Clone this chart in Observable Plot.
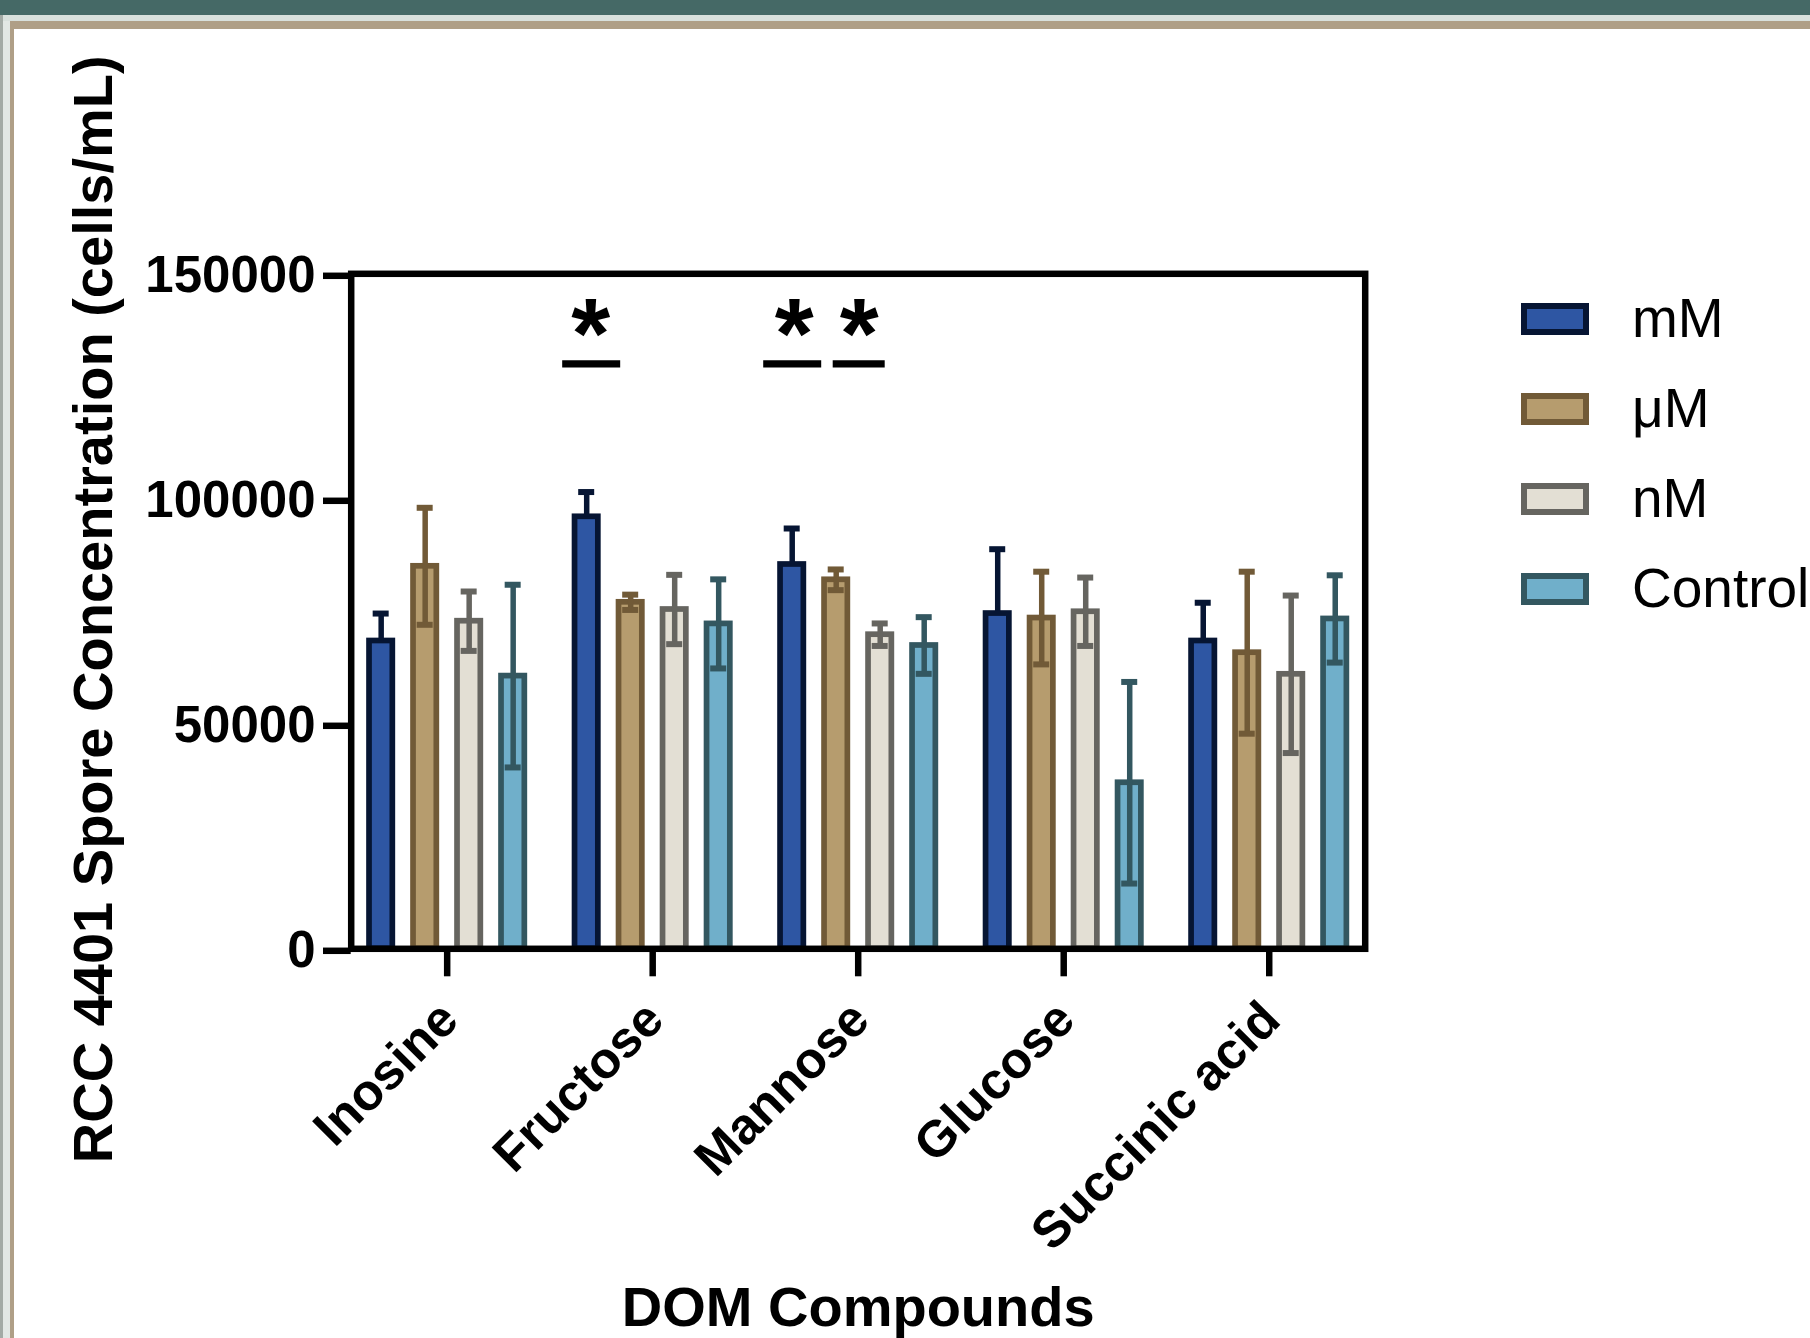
<!DOCTYPE html>
<html><head><meta charset="utf-8">
<script src="https://cdn.jsdelivr.net/npm/d3@7"></script>
<script src="https://cdn.jsdelivr.net/npm/@observablehq/plot@0.6"></script>
<style>
html,body{margin:0;padding:0;width:1810px;height:1338px;overflow:hidden;background:#fff;font-family:"Liberation Sans",Arial,Helvetica,sans-serif;}
#wrap{position:relative;width:1810px;height:1338px;overflow:hidden;}
#chart{position:absolute;left:0;top:0;}
.deco{position:absolute;z-index:5;}
.item{position:absolute;left:1521px;}
.sw{position:absolute;left:0;box-sizing:border-box;width:68px;height:32px;border:6px solid;}
.lab{position:absolute;left:111px;font-size:55px;line-height:56px;white-space:nowrap;color:#000;}
</style></head>
<body><div id="wrap"><div id="chart"></div><div id="legend"></div></div>
<script>
// ---- data ----
const compounds = ["Inosine", "Fructose", "Mannose", "Glucose", "Succinic acid"];
const series = ["mM", "μM", "nM", "Control"];
const meanMM      = [68400, 96000, 85400, 74500, 68400];
const meanUM      = [85000, 77000, 82000, 73500, 65800];
const meanNM      = [72800, 75400, 69800, 74900, 61000];
const meanControl = [60600, 72200, 67400, 36900, 73300];
const sdMM        = [6100, 5500, 8000, 14300, 8500];
const sdUM        = [13000, 1700, 2300, 10300, 18000];
const sdNM        = [6600, 7700, 2500, 7600, 17500];
const sdControl   = [20300, 9900, 6300, 22400, 9700];
const oneSided    = ["mM"];            // series drawn with upper error bar only
const yTicks      = [0, 50000, 100000, 150000];
const signifCompounds = ["Fructose", "Mannose", "Mannose"];
const signifLevel     = [130000, 130000, 130000];
const signifText      = ["*", "*", "*"];

// ---- styles ----
const fills   = {"mM": "#2E56A3", "μM": "#B69C6E", "nM": "#E3DFD4", "Control": "#70AFCA"};
const strokes = {"mM": "#061533", "μM": "#715A37", "nM": "#666560", "Control": "#335760"};
const means = {"mM": meanMM, "μM": meanUM, "nM": meanNM, "Control": meanControl};
const sds   = {"mM": sdMM, "μM": sdUM, "nM": sdNM, "Control": sdControl};

// ---- layout ----
const W = 1810, H = 1338;
const mL = 350.7, mT = 273.3, mR = 445.3, mB = 389.7;
const padIn = 0.066;
const step = (W - mL - mR) / (compounds.length - padIn);
const bw = step * (1 - padIn);
const slot = [-66, -22, 22, 66];
const barW = 23.3, capW = 16;
const signifDx = [-61, -65.5, 1];
const signifW = [58, 58, 52];
const starDx = [-62, -64, 1];

const rows = series.map(s => compounds.map((c, j) => ({
  compound: c, series: s, value: means[s][j], sd: sds[s][j],
  lo: oneSided.includes(s) ? means[s][j] : means[s][j] - sds[s][j],
  hi: means[s][j] + sds[s][j]
})));

const marks = [];
series.forEach((s, i) => {
  const data = rows[i];
  const inset = (bw - barW) / 2, capInset = (bw - capW) / 2;
  marks.push(Plot.barY(data, {x: "compound", y1: 0, y2: "value", fill: fills[s], stroke: strokes[s], strokeWidth: 5.7, insetLeft: inset, insetRight: inset, dx: slot[i]}));
  marks.push(Plot.ruleX(data, {x: "compound", y1: "lo", y2: "hi", stroke: strokes[s], strokeWidth: 5.5, dx: slot[i]}));
  marks.push(Plot.tickY(data, {x: "compound", y: "hi", stroke: strokes[s], strokeWidth: 6, insetLeft: capInset, insetRight: capInset, dx: slot[i]}));
  if (!oneSided.includes(s)) {
    marks.push(Plot.tickY(data, {x: "compound", y: "lo", stroke: strokes[s], strokeWidth: 6, insetLeft: capInset, insetRight: capInset, dx: slot[i]}));
  }
});

const signif = signifCompounds.map((c, k) => ({compound: c, level: signifLevel[k], text: signifText[k]}));
signif.forEach((d, k) => {
  const li = (bw - signifW[k]) / 2;
  marks.push(Plot.tickY([d], {x: "compound", y: "level", stroke: "black", strokeWidth: 7.3, insetLeft: li, insetRight: li, dx: signifDx[k]}));
  marks.push(Plot.text([d], {x: "compound", y: "level", text: "text", fontSize: 100, fontWeight: "bold", lineAnchor: "middle", dy: -28, dx: starDx[k], fill: "black"}));
});

marks.push(Plot.frame({stroke: "black", strokeWidth: 6.5}));
marks.push(Plot.axisY({ticks: yTicks, tickFormat: d => String(d), tickSize: 27.7, tickPadding: 8, fontSize: 51, fontWeight: "bold", strokeWidth: 6.5, label: null, dy: 2}));
marks.push(Plot.axisX({tickSize: 28, strokeWidth: 6.5, tickFormat: () => "", label: null}));
marks.push(Plot.text(compounds, {x: d => d, frameAnchor: "bottom", rotate: -45, textAnchor: "end", lineAnchor: "middle", dy: 62, dx: 2, fontSize: 51, fontWeight: "bold", fill: "black"}));
marks.push(Plot.text(["RCC 4401 Spore Concentration (cells/mL)"], {frameAnchor: "left", rotate: -90, textAnchor: "middle", lineAnchor: "middle", dx: -257, dy: -2, fontSize: 56, fontWeight: "bold", fill: "black"}));
marks.push(Plot.text(["DOM Compounds"], {frameAnchor: "bottom", textAnchor: "middle", lineAnchor: "middle", dy: 359, fontSize: 56, fontWeight: "bold", fill: "black"}));

const chart = Plot.plot({
  width: W, height: H,
  marginLeft: mL, marginRight: mR, marginTop: mT, marginBottom: mB,
  style: {fontFamily: "'Liberation Sans', Arial, Helvetica, sans-serif", background: "transparent", color: "black", overflow: "visible"},
  x: {type: "band", domain: compounds, paddingInner: padIn, paddingOuter: 0, align: 0.5, round: false},
  y: {domain: [0, 150000], nice: false},
  marks
});
document.getElementById("chart").appendChild(chart);

// ---- legend ----
const legend = document.getElementById("legend");
const legendCenters = [318.6, 408.6, 498.6, 588.7];
series.forEach((s, i) => {
  const it = document.createElement("div");
  it.className = "item";
  it.style.top = (legendCenters[i] - 16) + "px";
  const sw = document.createElement("div");
  sw.className = "sw";
  sw.style.background = fills[s];
  sw.style.borderColor = strokes[s];
  const lab = document.createElement("div");
  lab.className = "lab";
  lab.style.top = (16 - 28.5) + "px";
  lab.textContent = s;
  it.appendChild(sw); it.appendChild(lab);
  legend.appendChild(it);
});

// ---- page decoration ----
const deco = [
  {l: 0, t: 0, w: 1810, h: 15, c: "#456966"},
  {l: 0, t: 15, w: 1810, h: 6, c: "#D8E0DC"},
  {l: 10, t: 21, w: 1800, h: 8, c: "#AF9F87"},
  {l: 0, t: 15, w: 3, h: 1323, c: "#A3AAA5"},
  {l: 3, t: 21, w: 7, h: 1317, c: "#E2E7E4"},
  {l: 10, t: 21, w: 4, h: 1317, c: "#AF9F87"}
];
const wrap = document.getElementById("wrap");
deco.forEach(d => {
  const e = document.createElement("div");
  e.className = "deco";
  Object.assign(e.style, {left: d.l + "px", top: d.t + "px", width: d.w + "px", height: d.h + "px", background: d.c});
  wrap.appendChild(e);
});
</script>
</body></html>
